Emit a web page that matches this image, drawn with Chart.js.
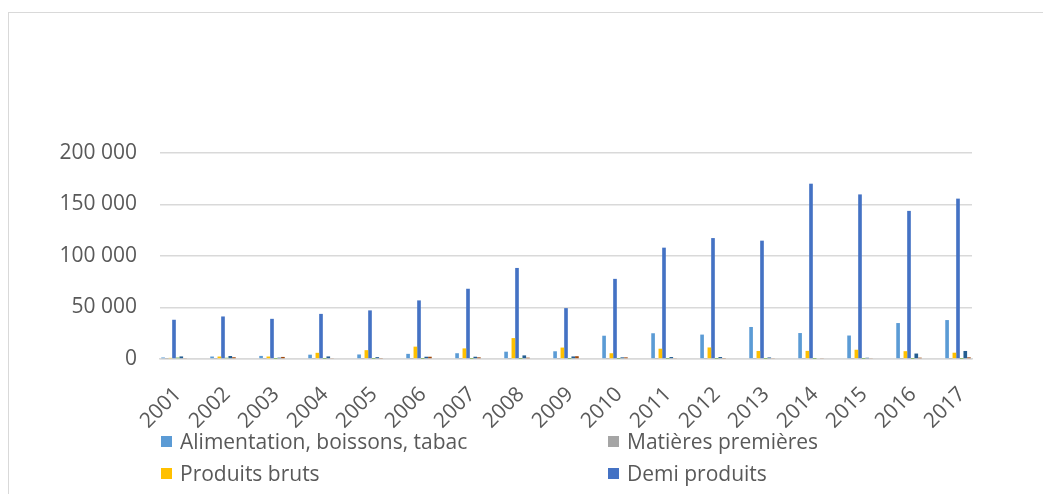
<!DOCTYPE html>
<html>
<head>
<meta charset="utf-8">
<script src="https://cdn.jsdelivr.net/npm/chart.js@4.4.1/dist/chart.umd.min.js"></script>
<style>
  html, body { margin: 0; padding: 0; background: #fff; }
  #wrap { position: relative; width: 1043px; height: 494px; overflow: hidden; font-family: "Open Sans", sans-serif; }
  #frame { position: absolute; left: 8px; top: 12px; width: 1200px; height: 700px;
           border-left: 1px solid #d9d9d9; border-top: 1px solid #d9d9d9; box-sizing: border-box; }
  #chart { position: absolute; left: 0; top: 0; }
  .lg { position: absolute; display: flex; align-items: center; height: 28px;
        font-size: 21px; color: #595959; white-space: nowrap; }
  .lg i { display: inline-block; width: 11px; height: 11px; margin-right: 8px; }
</style>
</head>
<body>
<div id="wrap">
  <div id="frame"></div>
  <canvas id="chart" width="1043" height="494"></canvas>
  <div id="legend"></div>
</div>
<script>
// Years on the horizontal axis
const years = ['2001','2002','2003','2004','2005','2006','2007','2008','2009',
               '2010','2011','2012','2013','2014','2015','2016','2017'];

// Values per product group
const alimentation = [1500, 2400, 3000, 4200, 4400, 5000, 5600, 7100, 7500,
                      22600, 25000, 23700, 31100, 25200, 22800, 34900, 37800];
const matieresPremieres = [300, 300, 300, 300, 300, 300, 300, 300, 300,
                           300, 300, 300, 300, 300, 300, 300, 300];
const produitsBruts = [1100, 2400, 2400, 6000, 8600, 12000, 10300, 20300, 11100,
                       5600, 10000, 11200, 7800, 7900, 9000, 7600, 6100];
const demiProduits = [38100, 41300, 39000, 43800, 47200, 56900, 68200, 88400, 49400,
                      77800, 108100, 117400, 114900, 170200, 159800, 143800, 155700];
const equipAgricole = [1400, 1200, 100, 100, 100, 100, 100, 100, 100,
                       100, 100, 100, 100, 100, 100, 100, 100];
const equipIndustriel = [2500, 2900, 1300, 2500, 1800, 2200, 2200, 3500, 2500,
                         1600, 1900, 1900, 1500, 700, 1200, 5300, 7800];
const consommation = [600, 1700, 2000, 600, 1000, 2200, 1600, 1300, 2700,
                      1600, 600, 1000, 600, 600, 600, 1300, 1600];

const seriesNames = ['Alimentation, boissons, tabac', 'Matières premières', 'Produits bruts',
                     'Demi produits', "Produits finis d'équipement agricole",
                     "Produits finis d'équipement industriel", 'Produits finis de consommation'];
const seriesValues = [alimentation, matieresPremieres, produitsBruts, demiProduits,
                      equipAgricole, equipIndustriel, consommation];
const seriesColors = ['#5B9BD5', '#A5A5A5', '#FFC000', '#4472C4', '#70AD47', '#255E91', '#9E480E'];

const fmt = v => String(v).replace(/\B(?=(\d{3})+(?!\d))/g, ' ');
const tickFont = { family: '"Open Sans", sans-serif', size: 21 };

const datasets = seriesNames.map((name, k) => ({
  label: name,
  data: seriesValues[k].map((v, i) => ({ x: i, y: v })),
  backgroundColor: seriesColors[k],
  borderWidth: 0,
  barPercentage: 1,
  categoryPercentage: 0.52
}));

const chart = new Chart(document.getElementById('chart'), {
  type: 'bar',
  data: { datasets },
  options: {
    responsive: false,
    animation: false,
    layout: { padding: { left: 0, right: 71, top: 153, bottom: 0 } },
    plugins: { legend: { display: false }, tooltip: { enabled: false } },
    scales: {
      x: {
        type: 'linear',
        offset: false,
        min: -14 / 49,
        max: 16 + 14 / 49,
        grid: { display: false },
        border: { display: true, color: '#D9D9D9', width: 1.5 },
        afterBuildTicks: s => { s.ticks = years.map((_, i) => ({ value: i })); },
        afterFit: s => { s.height = 135; },
        ticks: {
          autoSkip: false, minRotation: 45, maxRotation: 45,
          padding: 15, labelOffset: 4,
          color: '#595959', font: tickFont,
          callback: v => years[v]
        }
      },
      y: {
        min: 0,
        max: 200000,
        afterFit: s => { s.width = 160; },
        border: { display: false },
        grid: { color: '#D9D9D9', lineWidth: 1.5, drawTicks: false },
        ticks: { stepSize: 50000, padding: 23, color: '#595959', font: tickFont, callback: v => fmt(v) }
      }
    }
  }
});

// Two-column legend below the axis; later rows run past the bottom edge
const legendBox = document.getElementById('legend');
const colLeft = [161, 608];
const rowMid = [441, 473, 505, 537];
chart.data.datasets.forEach((ds, k) => {
  const item = document.createElement('div');
  item.className = 'lg';
  item.style.left = colLeft[k % 2] + 'px';
  item.style.top = (rowMid[Math.floor(k / 2)] - 14) + 'px';
  const sw = document.createElement('i');
  sw.style.background = ds.backgroundColor;
  item.appendChild(sw);
  item.appendChild(document.createTextNode(ds.label));
  legendBox.appendChild(item);
});
</script>
</body>
</html>
